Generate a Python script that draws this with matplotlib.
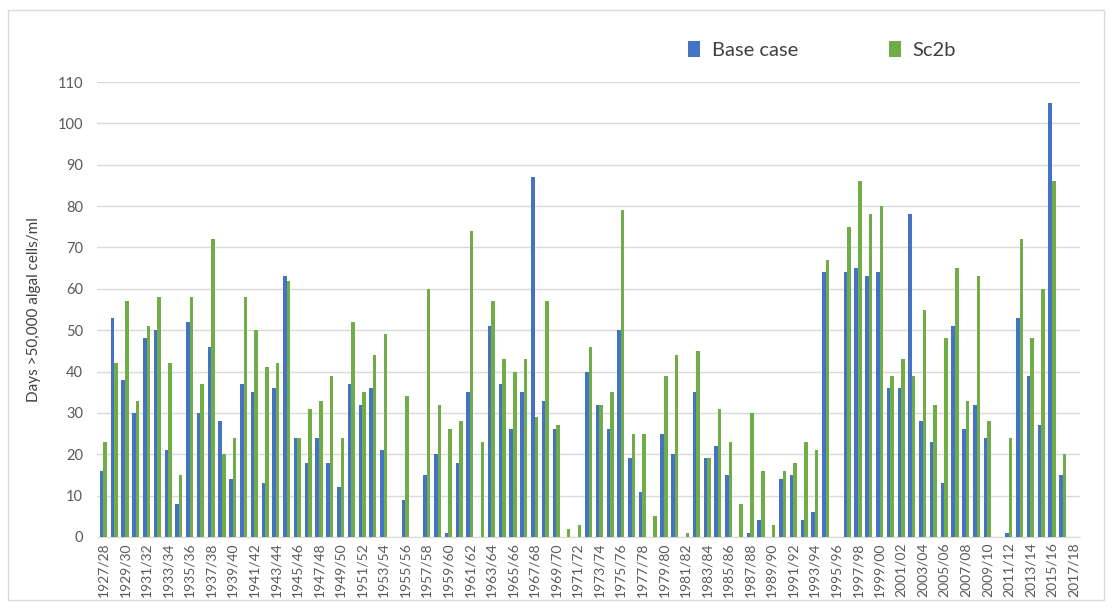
import matplotlib
matplotlib.use("Agg")
import matplotlib.pyplot as plt
from matplotlib.patches import Rectangle, Patch
import numpy as np

start_years = list(range(1927, 2018))
categories = [f"{y}/{str(y + 1)[-2:]}" for y in start_years]

base_case = [16, 53, 38, 30, 48, 50, 21, 8, 52, 30,
             46, 28, 14, 37, 35, 13, 36, 63, 24, 18,
             24, 18, 12, 37, 32, 36, 21, 0, 9, 0,
             15, 20, 1, 18, 35, 0, 51, 37, 26, 35,
             87, 33, 26, 0, 0, 40, 32, 26, 50, 19,
             11, 0, 25, 20, 0, 35, 19, 22, 15, 0,
             1, 4, 0, 14, 15, 4, 6, 64, 0, 64,
             65, 63, 64, 36, 36, 78, 28, 23, 13, 51,
             26, 32, 24, 0, 1, 53, 39, 27, 105, 15, 0]

sc2b = [23, 42, 57, 33, 51, 58, 42, 15, 58, 37,
        72, 20, 24, 58, 50, 41, 42, 62, 24, 31,
        33, 39, 24, 52, 35, 44, 49, 0, 34, 0,
        60, 32, 26, 28, 74, 23, 57, 43, 40, 43,
        29, 57, 27, 2, 3, 46, 32, 35, 79, 25,
        25, 5, 39, 44, 1, 45, 19, 31, 23, 8,
        30, 16, 3, 16, 18, 23, 21, 67, 0, 75,
        86, 78, 80, 39, 43, 39, 55, 32, 48, 65,
        33, 63, 28, 0, 24, 72, 48, 60, 86, 20, 0]

series_names = ["Base case", "Sc2b"]
colors = ["#4472C4", "#70AD47"]
ylabel = "Days >50,000 algal cells/ml"

plt.rcParams['font.family'] = ['Lato', 'DejaVu Sans']

fig = plt.figure(figsize=(11.12, 6.12), dpi=100)
ax = fig.add_axes([97 / 1112, (612 - 537) / 612, (1080 - 97) / 1112, (537 - 82) / 612])

x = np.arange(len(categories))
w = 0.33
ax.bar(x - w / 2, base_case, width=w, color=colors[0], edgecolor='none', zorder=3)
ax.bar(x + w / 2, sc2b, width=w, color=colors[1], edgecolor='none', zorder=3)

ax.set_ylim(0, 110)
ax.set_xlim(-0.6, len(categories) - 0.4)
ax.set_yticks(range(0, 111, 10))
ax.yaxis.grid(True, color='#D9D9D9', linewidth=1.0, zorder=0)
ax.set_axisbelow(True)
for s in ['top', 'right', 'left']:
    ax.spines[s].set_visible(False)
ax.spines['bottom'].set_color('#D9D9D9')
ax.tick_params(axis='y', length=0, labelsize=10.5, colors='#595959', pad=10)
ax.tick_params(axis='x', length=0, labelsize=10, colors='#595959', pad=4)
ax.set_xticks(x[::2])
ax.set_xticklabels(categories[::2], rotation=90)
ax.set_ylabel(ylabel, fontsize=11, color='#404040', labelpad=12)

handles = [Patch(facecolor=c, edgecolor='none') for c in colors]
fig.legend(handles, series_names, loc='center', bbox_to_anchor=(822 / 1112, 1 - 50 / 612),
           ncol=2, frameon=False, fontsize=14.5, handlelength=0.6, handleheight=0.8,
           handletextpad=0.6, columnspacing=4.5, labelcolor='#404040')

fig.patches.append(Rectangle((8 / 1112, 1 - 600 / 612), (1104 - 8) / 1112, (600 - 10) / 612,
                             transform=fig.transFigure, fill=False, edgecolor='#D9D9D9',
                             linewidth=1.0))

fig.savefig("out.png", dpi=100)
